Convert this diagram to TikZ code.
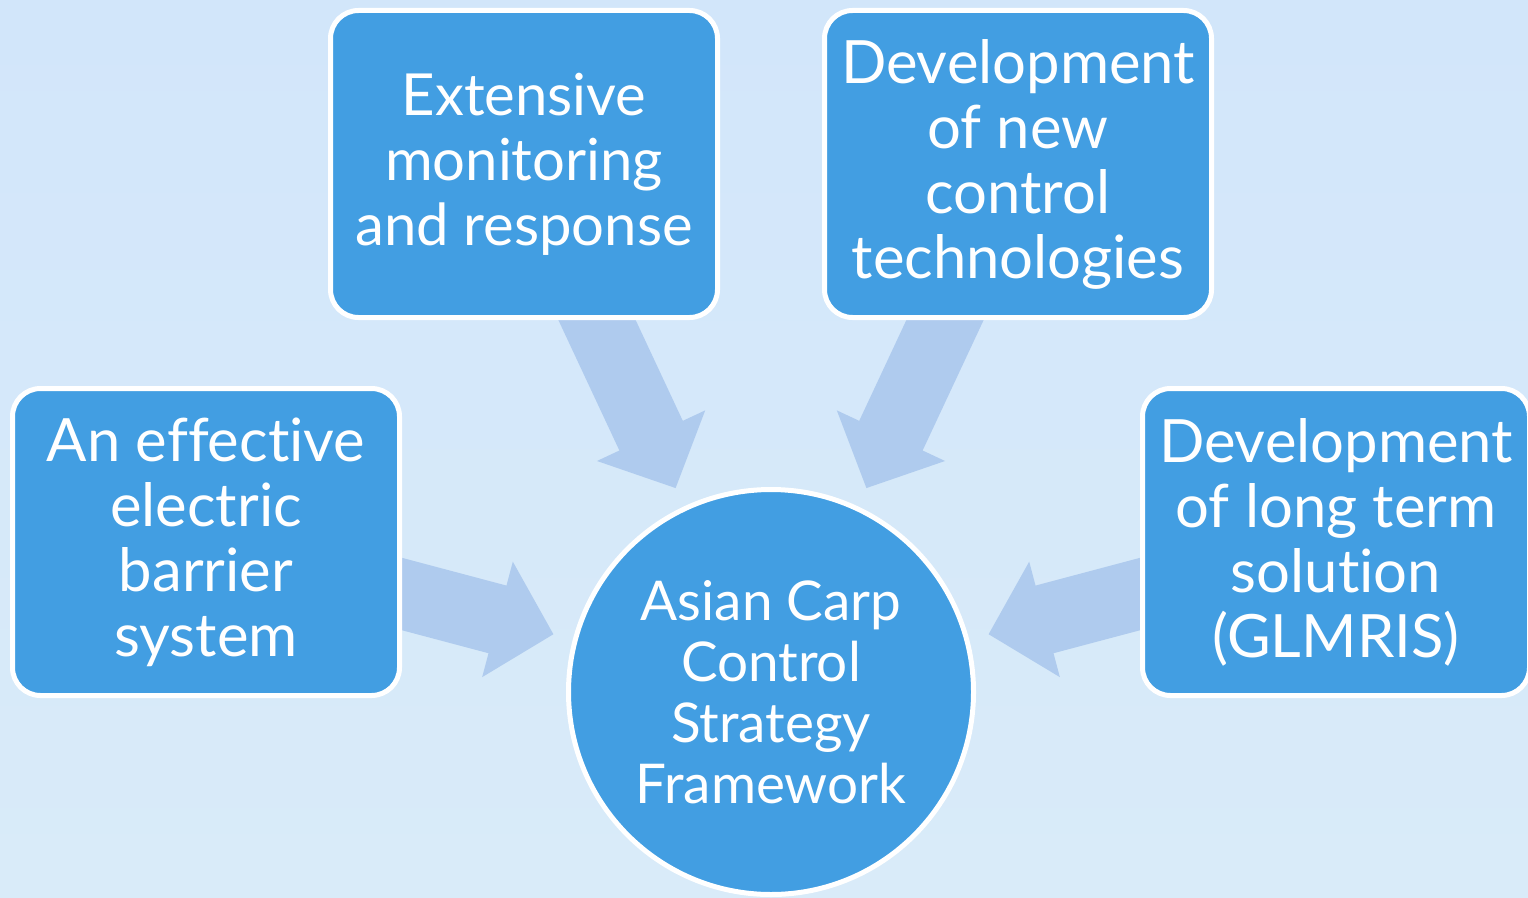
\documentclass[tikz,border=0pt]{standalone}
\usepackage{fontspec}
\setmainfont{Lato}[Ligatures=NoCommon]
\usetikzlibrary{arrows.meta,backgrounds}
\definecolor{boxblue}{HTML}{429EE2}
\definecolor{arrowblue}{HTML}{AFCBEE}
\definecolor{bgtop}{HTML}{D2E6FA}
\definecolor{bgmid}{HTML}{C9E0F8}
\definecolor{bgbot}{HTML}{D9EBF9}
\begin{document}
\begin{tikzpicture}[box/.style={draw=white, line width=0.05cm, fill=boxblue, rounded corners=0.28cm, minimum width=3.87cm, minimum height=3.07cm, text=white, align=center, font=\fontsize{17}{18.5}\selectfont}, hub/.style={draw=white, line width=0.05cm, fill=boxblue, circle, minimum size=4.05cm, text=white, align=center, font=\fontsize{15.6}{17.4}\selectfont}, flow/.style={arrowblue, line width=0.7cm, -{Triangle[length=0.58cm, width=1.16cm]}, shorten >=0.2cm}]
  \useasboundingbox (0,0) rectangle (15.28,8.97);

  \node[box] (barrier) at (2.06,3.55) {An effective\\electric\\barrier\\system};
  \node[box, font=\fontsize{16.5}{18.5}\selectfont] (monitor) at (5.24,7.33) {Extensive\\monitoring\\and response};
  \node[box] (newtech) at (10.18,7.33) {Development\\of new\\control\\technologies};
  \node[box] (longterm) at (13.36,3.55) {Development\\of long term\\solution\\(GLMRIS)};
  \node[hub] (frame) at (7.71,2.05) {Asian Carp\\Control\\Strategy\\Framework};

  \begin{scope}[on background layer]
    \shade[top color=bgtop, middle color=bgmid, bottom color=bgbot] (0,0) rectangle (15.28,8.97);
    \draw[flow] (barrier.center) -- (frame);
    \draw[flow] (monitor.center) -- (frame);
    \draw[flow] (newtech.center) -- (frame);
    \draw[flow] (longterm.center) -- (frame);
  \end{scope}
\end{tikzpicture}
\end{document}
